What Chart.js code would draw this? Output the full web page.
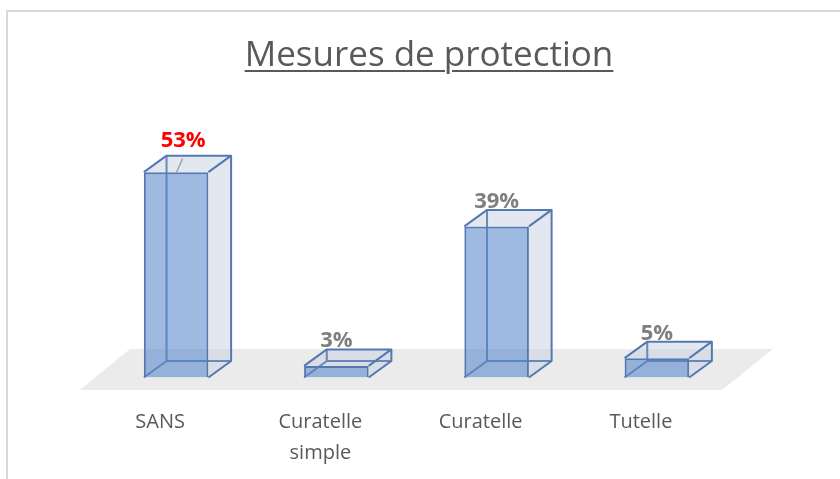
<!DOCTYPE html>
<html>
<head>
<meta charset="utf-8">
<title>Mesures de protection</title>
<script src="https://cdn.jsdelivr.net/npm/chart.js@4.4.0/dist/chart.umd.min.js"></script>
<style>
  html, body { margin: 0; padding: 0; background: #fff; overflow: hidden; }
  #frame {
    position: absolute; left: 6px; top: 10px; width: 900px; height: 500px;
    border-left: 2px solid #d9d9d9; border-top: 2px solid #d9d9d9;
  }
  #chart { position: absolute; left: 0; top: 0; }
  #title {
    position: absolute; left: 0; top: 29px; width: 858px;
    text-align: center; font-family: 'Open Sans', sans-serif; font-size: 35px;
    line-height: 48px; color: #595959;
    text-decoration: underline; text-decoration-thickness: 2px; text-underline-offset: 4px;
  }
</style>
</head>
<body>
<div id="frame"></div>
<canvas id="chart" width="840" height="479"></canvas>
<div id="title">Mesures de protection</div>
<script>
// Data
const categories = ['SANS', ['Curatelle', 'simple'], 'Curatelle', 'Tutelle'];
const shares = [53, 3, 39, 5];
const valueLabels = ['53%', '3%', '39%', '5%'];
const labelColors = ['#ff0000', '#7f7f7f', '#7f7f7f', '#7f7f7f'];

// 3D look: depth of every box, in pixels
const DX = 22.7;
const DY = -16.5;
const EDGE = '#5479b0';

function path(ctx, pts) {
    ctx.beginPath();
    ctx.moveTo(pts[0][0], pts[0][1]);
    for (let i = 1; i < pts.length; i++) ctx.lineTo(pts[i][0], pts[i][1]);
    ctx.closePath();
}

// Draws the floor, side/top faces and hidden edges behind the front faces,
// then the visible edges and value labels on top
const box3d = {
    id: 'box3d',
    beforeDatasetsDraw(chart) {
        const { ctx, chartArea: a } = chart;
        ctx.save();

        // floor
        ctx.fillStyle = '#ebebeb';
        path(ctx, [
            [a.left - 16, a.bottom + 12.5],
            [a.right - 15, a.bottom + 12.5],
            [a.right + 36, a.bottom - 28.5],
            [a.left + 34, a.bottom - 28.5]
        ]);
        ctx.fill();

        chart.getDatasetMeta(0).data.forEach(bar => {
            const { x, y, base, width } = bar.getProps(['x', 'y', 'base', 'width'], true);
            const l = x - width / 2, r = x + width / 2;

            ctx.fillStyle = 'rgba(200, 210, 225, 0.5)';
            path(ctx, [[r, y], [r + DX, y + DY], [r + DX, base + DY], [r, base]]);
            ctx.fill();
            path(ctx, [[l, y], [r, y], [r + DX, y + DY], [l + DX, y + DY]]);
            ctx.fill();

            // edges seen through the front face
            ctx.strokeStyle = EDGE;
            ctx.globalAlpha = 0.85;
            ctx.lineWidth = 2;
            ctx.beginPath();
            ctx.moveTo(l + DX, y + DY);
            ctx.lineTo(l + DX, base + DY);
            ctx.lineTo(r + DX, base + DY);
            ctx.moveTo(l, base);
            ctx.lineTo(l + DX, base + DY);
            ctx.stroke();
            ctx.globalAlpha = 1;
        });
        ctx.restore();
    },
    afterDatasetsDraw(chart) {
        const { ctx } = chart;
        ctx.save();
        ctx.strokeStyle = EDGE;
        ctx.lineWidth = 2;
        ctx.lineJoin = 'round';

        chart.getDatasetMeta(0).data.forEach((bar, i) => {
            const { x, y, base, width } = bar.getProps(['x', 'y', 'base', 'width'], true);
            const l = x - width / 2, r = x + width / 2;

            ctx.beginPath();
            ctx.moveTo(l, y);
            ctx.lineTo(l + DX, y + DY);
            ctx.lineTo(r + DX, y + DY);
            ctx.lineTo(r, y);
            ctx.moveTo(r + DX, y + DY);
            ctx.lineTo(r + DX, base + DY);
            ctx.lineTo(r, base);
            ctx.stroke();

            // value label, the first one is pulled up with a leader line
            let lx = x, ly = y + DY - 2;
            if (i === 0) {
                lx += 7;
                ly -= 7;
                ctx.save();
                ctx.strokeStyle = '#a6a6a6';
                ctx.lineWidth = 1.5;
                ctx.beginPath();
                ctx.moveTo(x + 6.5, y + DY + 3);
                ctx.lineTo(x + 0.5, y);
                ctx.stroke();
                ctx.restore();
            }
            ctx.font = "bold 22px 'Open Sans'";
            ctx.fillStyle = labelColors[i];
            ctx.textAlign = 'center';
            ctx.textBaseline = 'alphabetic';
            ctx.fillText(valueLabels[i], lx, ly);
        });
        ctx.restore();
    }
};

new Chart(document.getElementById('chart'), {
    type: 'bar',
    data: {
        labels: categories,
        datasets: [{
            data: shares,
            backgroundColor: 'rgba(79, 129, 201, 0.55)',
            borderColor: EDGE,
            borderWidth: 2,
            barPercentage: 0.403,
            categoryPercentage: 1
        }]
    },
    options: {
        responsive: false,
        animation: false,
        devicePixelRatio: 1,
        layout: { padding: { left: 96, right: 103, top: 145, bottom: 0 } },
        plugins: {
            legend: { display: false },
            title: { display: false },
            tooltip: { enabled: false }
        },
        scales: {
            x: {
                grid: { display: false },
                border: { display: false },
                afterFit: scale => { scale.height = 101.5; },
                ticks: {
                    color: '#595959',
                    font: { family: "'Open Sans'", size: 20, lineHeight: 1.55 },
                    padding: 21,
                    labelOffset: -16,
                    maxRotation: 0,
                    autoSkip: false
                }
            },
            y: {
                display: false,
                min: 0,
                max: 60
            }
        }
    },
    plugins: [box3d]
});
</script>
</body>
</html>
